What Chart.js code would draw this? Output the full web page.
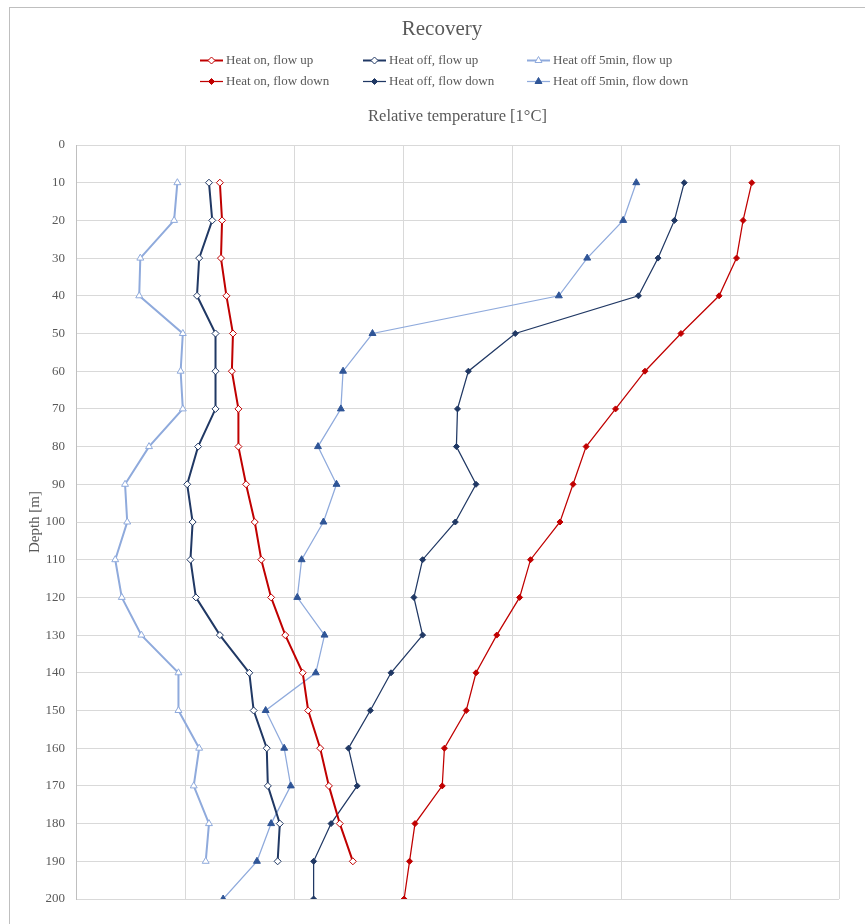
<!DOCTYPE html>
<html>
<head>
<meta charset="utf-8">
<title>Recovery</title>
<script src="https://cdn.jsdelivr.net/npm/chart.js@4.4.1/dist/chart.umd.min.js"></script>
<style>
  html, body { margin: 0; padding: 0; background: #fff; overflow: hidden; }
  #frame { position: absolute; left: 9px; top: 7px; width: 880px; height: 940px; border: 1px solid #bfbfbf; box-sizing: border-box; }
  #wrap { position: absolute; left: 0; top: 0; width: 865px; height: 924px; }
</style>
</head>
<body>
<div id="frame"></div>
<div id="wrap"><canvas id="chart" width="865" height="924"></canvas></div>
<script>
// Depth readings [m]
const depthUp = [10, 20, 30, 40, 50, 60, 70, 80, 90, 100, 110, 120, 130, 140, 150, 160, 170, 180, 190];
const depthDown = [10, 20, 30, 40, 50, 60, 70, 80, 90, 100, 110, 120, 130, 140, 150, 160, 170, 180, 190, 200];

// Relative temperature [1°C]
const heatOnUp = [1.32, 1.34, 1.33, 1.38, 1.44, 1.43, 1.49, 1.49, 1.56, 1.64, 1.70, 1.79, 1.92, 2.08, 2.13, 2.24, 2.32, 2.42, 2.54];
const heatOffUp = [1.22, 1.25, 1.13, 1.11, 1.28, 1.28, 1.28, 1.12, 1.02, 1.07, 1.05, 1.10, 1.32, 1.59, 1.63, 1.75, 1.76, 1.87, 1.85];
const heatOff5Up = [0.93, 0.90, 0.59, 0.58, 0.98, 0.96, 0.98, 0.67, 0.45, 0.47, 0.36, 0.42, 0.60, 0.94, 0.94, 1.13, 1.08, 1.22, 1.19];
const heatOnDown = [6.20, 6.12, 6.06, 5.90, 5.55, 5.22, 4.95, 4.68, 4.56, 4.44, 4.17, 4.07, 3.86, 3.67, 3.58, 3.38, 3.36, 3.11, 3.06, 3.01];
const heatOffDown = [5.58, 5.49, 5.34, 5.16, 4.03, 3.60, 3.50, 3.49, 3.67, 3.48, 3.18, 3.10, 3.18, 2.89, 2.70, 2.50, 2.58, 2.34, 2.18, 2.18];
const heatOff5Down = [5.14, 5.02, 4.69, 4.43, 2.72, 2.45, 2.43, 2.22, 2.39, 2.27, 2.07, 2.03, 2.28, 2.20, 1.74, 1.91, 1.97, 1.79, 1.66, 1.35];

const depthTicks = [0, 10, 20, 30, 40, 50, 60, 70, 80, 90, 100, 110, 120, 130, 140, 150, 160, 170, 180, 190, 200];

const RED = '#c00000';
const NAVY = '#203864';
const LIGHT = '#8faadc';
const MID = '#2f5597';
const TEXT = '#595959';
const FONT = "'Liberation Serif', 'DejaVu Serif', serif";

function toPoints(xs, ys) {
  return xs.map((x, i) => ({ x: x, y: ys[i] }));
}

function makeSeries(label, xs, ys, style) {
  return {
    label: label,
    data: toPoints(xs, ys),
    borderColor: style.line,
    borderWidth: style.width,
    pointStyle: style.marker,
    pointRadius: style.radius,
    pointBorderColor: style.markerLine,
    pointBorderWidth: 1,
    pointBackgroundColor: style.fill,
    showLine: true,
    tension: 0
  };
}

const datasets = [
  makeSeries('Heat on, flow up', heatOnUp, depthUp, { line: RED, width: 2, marker: 'rectRot', radius: 3.5, markerLine: RED, fill: '#ffffff' }),
  makeSeries('Heat off, flow up', heatOffUp, depthUp, { line: NAVY, width: 2, marker: 'rectRot', radius: 3.5, markerLine: NAVY, fill: '#ffffff' }),
  makeSeries('Heat off 5min, flow up', heatOff5Up, depthUp, { line: LIGHT, width: 2, marker: 'triangle', radius: 4, markerLine: LIGHT, fill: '#ffffff' }),
  makeSeries('Heat on, flow down', heatOnDown, depthDown, { line: RED, width: 1.25, marker: 'rectRot', radius: 3, markerLine: RED, fill: RED }),
  makeSeries('Heat off, flow down', heatOffDown, depthDown, { line: NAVY, width: 1.25, marker: 'rectRot', radius: 3, markerLine: NAVY, fill: NAVY }),
  makeSeries('Heat off 5min, flow down', heatOff5Down, depthDown, { line: LIGHT, width: 1.25, marker: 'triangle', radius: 4, markerLine: MID, fill: MID })
];

// Title and a two-row legend with aligned columns, like the spreadsheet one
const legendCols = [200, 363, 527];
const legendRows = [60.5, 81.5];
const headerPlugin = {
  id: 'header',
  afterDraw(chart) {
    const ctx = chart.ctx;
    ctx.save();
    ctx.fillStyle = TEXT;
    ctx.font = '21px ' + FONT;
    ctx.textAlign = 'center';
    ctx.textBaseline = 'middle';
    ctx.fillText('Recovery', 442, 29.5);

    chart.data.datasets.forEach((ds, i) => {
      const x = legendCols[i % 3];
      const y = legendRows[Math.floor(i / 3)];
      ctx.strokeStyle = ds.borderColor;
      ctx.lineWidth = ds.borderWidth;
      ctx.beginPath();
      ctx.moveTo(x, y);
      ctx.lineTo(x + 23, y);
      ctx.stroke();
      ctx.fillStyle = ds.pointBackgroundColor;
      ctx.strokeStyle = ds.pointBorderColor;
      ctx.lineWidth = 1;
      Chart.helpers.drawPoint(ctx, { pointStyle: ds.pointStyle, radius: ds.pointRadius, rotation: 0, borderWidth: 1 }, x + 11.5, y);
      ctx.fillStyle = TEXT;
      ctx.font = '13px ' + FONT;
      ctx.textBaseline = 'middle';
      ctx.textAlign = 'left';
      ctx.fillText(ds.label, x + 26, y);
    });
    ctx.restore();
  }
};

new Chart(document.getElementById('chart'), {
  type: 'scatter',
  data: { datasets: datasets },
  plugins: [headerPlugin],
  options: {
    responsive: false,
    animation: false,
    layout: { padding: { left: 10, right: 26, top: 2, bottom: 25 } },
    plugins: {
      legend: { display: false },
      tooltip: { enabled: false },
      title: { display: false }
    },
    scales: {
      x: {
        type: 'linear',
        position: 'top',
        min: 0,
        max: 7,
        ticks: { display: false, stepSize: 1 },
        grid: { color: '#d9d9d9', drawTicks: false },
        border: { color: '#d9d9d9' },
        title: {
          display: true,
          text: 'Relative temperature [1°C]',
          color: TEXT,
          font: { family: FONT, size: 16.5 },
          padding: { top: 105, bottom: 0 }
        },
        afterFit(scale) { scale.height = 143; }
      },
      y: {
        type: 'linear',
        reverse: true,
        min: 0,
        max: 200,
        afterBuildTicks(scale) { scale.ticks = depthTicks.map(v => ({ value: v })); },
        ticks: { color: TEXT, font: { family: FONT, size: 13 }, padding: 11 },
        grid: { color: '#d9d9d9', drawTicks: false },
        border: { color: '#bfbfbf' },
        title: {
          display: true,
          text: 'Depth [m]',
          color: TEXT,
          font: { family: FONT, size: 15 },
          padding: { top: 16, bottom: 0 }
        },
        afterFit(scale) { scale.width = 66; }
      }
    }
  }
});
</script>
</body>
</html>
